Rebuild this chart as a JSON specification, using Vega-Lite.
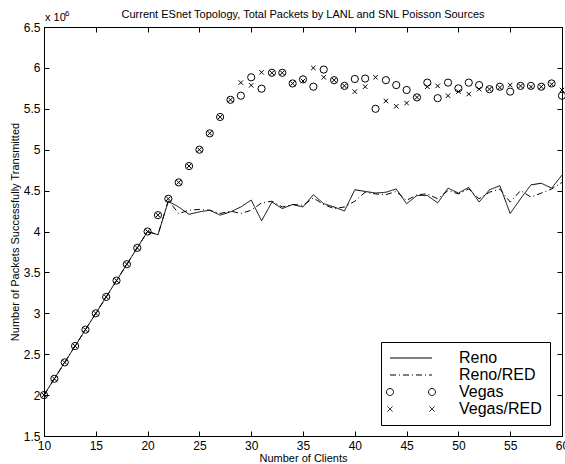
{
  "$schema": "https://vega.github.io/schema/vega-lite/v6.json",
  "width": 518,
  "height": 409,
  "autosize": {"type": "none"},
  "padding": {"left": 44, "top": 27, "right": 3, "bottom": 28},
  "background": "white",
  "title": {
    "text": "Current ESnet Topology, Total Packets by LANL and SNL Poisson Sources",
    "font": "Liberation Sans",
    "fontSize": 11,
    "fontWeight": "normal",
    "color": "black",
    "anchor": "middle",
    "frame": "group",
    "baseline": "alphabetic",
    "offset": -19
  },
  "config": {
    "view": {"stroke": "black", "strokeWidth": 1},
    "axis": {
      "grid": false,
      "domainColor": "black",
      "tickColor": "black",
      "labelColor": "black",
      "titleColor": "black",
      "labelFont": "Liberation Sans",
      "labelFontSize": 12,
      "titleFont": "Liberation Sans",
      "titleFontSize": 11,
      "titleFontWeight": "normal",
      "tickSize": -5,
      "labelPadding": 9,
      "minExtent": 0
    }
  },
  "datasets": {
    "wide": [
      {"clients": 10, "Reno": 2.0, "Reno/RED": 2.0, "Vegas": 2.0, "Vegas/RED": 2.0},
      {"clients": 11, "Reno": 2.2, "Reno/RED": 2.2, "Vegas": 2.2, "Vegas/RED": 2.2},
      {"clients": 12, "Reno": 2.4, "Reno/RED": 2.4, "Vegas": 2.4, "Vegas/RED": 2.4},
      {"clients": 13, "Reno": 2.6, "Reno/RED": 2.6, "Vegas": 2.6, "Vegas/RED": 2.6},
      {"clients": 14, "Reno": 2.8, "Reno/RED": 2.8, "Vegas": 2.8, "Vegas/RED": 2.8},
      {"clients": 15, "Reno": 3.0, "Reno/RED": 3.0, "Vegas": 3.0, "Vegas/RED": 3.0},
      {"clients": 16, "Reno": 3.2, "Reno/RED": 3.2, "Vegas": 3.2, "Vegas/RED": 3.2},
      {"clients": 17, "Reno": 3.4, "Reno/RED": 3.4, "Vegas": 3.4, "Vegas/RED": 3.4},
      {"clients": 18, "Reno": 3.6, "Reno/RED": 3.6, "Vegas": 3.6, "Vegas/RED": 3.6},
      {"clients": 19, "Reno": 3.8, "Reno/RED": 3.8, "Vegas": 3.8, "Vegas/RED": 3.8},
      {"clients": 20, "Reno": 4.0, "Reno/RED": 4.0, "Vegas": 4.0, "Vegas/RED": 4.0},
      {"clients": 21, "Reno": 3.96, "Reno/RED": 3.96, "Vegas": 4.2, "Vegas/RED": 4.2},
      {"clients": 22, "Reno": 4.37, "Reno/RED": 4.38, "Vegas": 4.4, "Vegas/RED": 4.4},
      {"clients": 23, "Reno": 4.3, "Reno/RED": 4.22, "Vegas": 4.6, "Vegas/RED": 4.6},
      {"clients": 24, "Reno": 4.21, "Reno/RED": 4.26, "Vegas": 4.8, "Vegas/RED": 4.8},
      {"clients": 25, "Reno": 4.24, "Reno/RED": 4.27, "Vegas": 5.0, "Vegas/RED": 5.0},
      {"clients": 26, "Reno": 4.26, "Reno/RED": 4.26, "Vegas": 5.2, "Vegas/RED": 5.2},
      {"clients": 27, "Reno": 4.2, "Reno/RED": 4.22, "Vegas": 5.4, "Vegas/RED": 5.4},
      {"clients": 28, "Reno": 4.24, "Reno/RED": 4.25, "Vegas": 5.61, "Vegas/RED": 5.61},
      {"clients": 29, "Reno": 4.3, "Reno/RED": 4.22, "Vegas": 5.66, "Vegas/RED": 5.82},
      {"clients": 30, "Reno": 4.385, "Reno/RED": 4.26, "Vegas": 5.885, "Vegas/RED": 5.787},
      {"clients": 31, "Reno": 4.13, "Reno/RED": 4.35, "Vegas": 5.746, "Vegas/RED": 5.946},
      {"clients": 32, "Reno": 4.36, "Reno/RED": 4.37, "Vegas": 5.94, "Vegas/RED": 5.94},
      {"clients": 33, "Reno": 4.28, "Reno/RED": 4.3, "Vegas": 5.94, "Vegas/RED": 5.94},
      {"clients": 34, "Reno": 4.33, "Reno/RED": 4.33, "Vegas": 5.81, "Vegas/RED": 5.81},
      {"clients": 35, "Reno": 4.3, "Reno/RED": 4.32, "Vegas": 5.86, "Vegas/RED": 5.84},
      {"clients": 36, "Reno": 4.45, "Reno/RED": 4.41, "Vegas": 5.77, "Vegas/RED": 6.0},
      {"clients": 37, "Reno": 4.34, "Reno/RED": 4.33, "Vegas": 5.98, "Vegas/RED": 5.885},
      {"clients": 38, "Reno": 4.3, "Reno/RED": 4.28, "Vegas": 5.85, "Vegas/RED": 5.85},
      {"clients": 39, "Reno": 4.25, "Reno/RED": 4.3, "Vegas": 5.78, "Vegas/RED": 5.78},
      {"clients": 40, "Reno": 4.51, "Reno/RED": 4.37, "Vegas": 5.864, "Vegas/RED": 5.71},
      {"clients": 41, "Reno": 4.49, "Reno/RED": 4.48, "Vegas": 5.87, "Vegas/RED": 5.77},
      {"clients": 42, "Reno": 4.47, "Reno/RED": 4.46, "Vegas": 5.5, "Vegas/RED": 5.885},
      {"clients": 43, "Reno": 4.48, "Reno/RED": 4.45, "Vegas": 5.85, "Vegas/RED": 5.595},
      {"clients": 44, "Reno": 4.52, "Reno/RED": 4.49, "Vegas": 5.79, "Vegas/RED": 5.53},
      {"clients": 45, "Reno": 4.34, "Reno/RED": 4.38, "Vegas": 5.73, "Vegas/RED": 5.57},
      {"clients": 46, "Reno": 4.44, "Reno/RED": 4.45, "Vegas": 5.64, "Vegas/RED": 5.64},
      {"clients": 47, "Reno": 4.44, "Reno/RED": 4.46, "Vegas": 5.82, "Vegas/RED": 5.77},
      {"clients": 48, "Reno": 4.35, "Reno/RED": 4.4, "Vegas": 5.63, "Vegas/RED": 5.78},
      {"clients": 49, "Reno": 4.53, "Reno/RED": 4.5, "Vegas": 5.82, "Vegas/RED": 5.66},
      {"clients": 50, "Reno": 4.47, "Reno/RED": 4.46, "Vegas": 5.75, "Vegas/RED": 5.71},
      {"clients": 51, "Reno": 4.54, "Reno/RED": 4.52, "Vegas": 5.82, "Vegas/RED": 5.68},
      {"clients": 52, "Reno": 4.36, "Reno/RED": 4.4, "Vegas": 5.79, "Vegas/RED": 5.74},
      {"clients": 53, "Reno": 4.51, "Reno/RED": 4.48, "Vegas": 5.74, "Vegas/RED": 5.74},
      {"clients": 54, "Reno": 4.56, "Reno/RED": 4.52, "Vegas": 5.77, "Vegas/RED": 5.76},
      {"clients": 55, "Reno": 4.22, "Reno/RED": 4.36, "Vegas": 5.71, "Vegas/RED": 5.79},
      {"clients": 56, "Reno": 4.4, "Reno/RED": 4.5, "Vegas": 5.78, "Vegas/RED": 5.78},
      {"clients": 57, "Reno": 4.57, "Reno/RED": 4.42, "Vegas": 5.78, "Vegas/RED": 5.77},
      {"clients": 58, "Reno": 4.59, "Reno/RED": 4.47, "Vegas": 5.77, "Vegas/RED": 5.77},
      {"clients": 59, "Reno": 4.53, "Reno/RED": 4.52, "Vegas": 5.81, "Vegas/RED": 5.8},
      {"clients": 60, "Reno": 4.69, "Reno/RED": 4.6, "Vegas": 5.66, "Vegas/RED": 5.73}
    ],
    "exponent": [
      {"clients": 10, "packets": 6.5, "base": "x 10", "power": "6"}
    ]
  },
  "layer": [
    {
      "data": {"name": "wide"},
      "transform": [{"fold": ["Reno", "Reno/RED"], "as": ["series", "packets"]}],
      "mark": {"type": "line", "color": "black", "strokeWidth": 1},
      "encoding": {
        "x": {
          "field": "clients",
          "type": "quantitative",
          "scale": {"domain": [10, 60], "nice": false, "zero": false},
          "axis": {
            "orient": "bottom",
            "values": [10, 15, 20, 25, 30, 35, 40, 45, 50, 55, 60],
            "title": "Number of Clients",
            "titlePadding": 1,
            "labelFlush": false
          }
        },
        "y": {
          "field": "packets",
          "type": "quantitative",
          "scale": {"domain": [1.5, 6.5], "nice": false, "zero": false},
          "axis": {
            "orient": "left",
            "values": [1.5, 2, 2.5, 3, 3.5, 4, 4.5, 5, 5.5, 6, 6.5],
            "format": "~g",
            "title": "Number of Packets Successfully Transmitted",
            "titlePadding": 3
          }
        },
        "strokeDash": {
          "field": "series",
          "type": "nominal",
          "scale": {
            "domain": ["Reno", "Reno/RED", "Vegas", "Vegas/RED"],
            "range": [[1, 0], [6, 3, 1, 3], [1, 0], [1, 0]]
          },
          "legend": {
            "title": null,
            "orient": "none",
            "legendX": 337,
            "legendY": 315,
            "strokeColor": "black",
            "fillColor": "white",
            "padding": 8,
            "cornerRadius": 0,
            "rowPadding": 1,
            "labelFont": "Liberation Sans",
            "labelFontSize": 16,
            "labelColor": "black",
            "labelOffset": 54,
            "labelLimit": 0,
            "symbolSize": 4,
            "symbolStrokeWidth": 1,
            "symbolStrokeColor": "black",
            "symbolFillColor": "transparent",
            "encode": {
              "symbols": {
                "update": {
                  "shape": {
                    "signal": "datum.value === 'Vegas' ? 'M-10.5,0A3.5,3.5 0 1,0 -3.5,0A3.5,3.5 0 1,0 -10.5,0M31.5,0A3.5,3.5 0 1,0 38.5,0A3.5,3.5 0 1,0 31.5,0' : datum.value === 'Vegas/RED' ? 'M-9.5,-2.5L-4.5,2.5M-9.5,2.5L-4.5,-2.5M32.5,-2.5L37.5,2.5M32.5,2.5L37.5,-2.5' : 'M-7,0L35,0'"
                  },
                  "stroke": {"value": "black"},
                  "fill": {"value": "transparent"},
                  "strokeWidth": {"value": 1}
                }
              }
            }
          }
        }
      }
    },
    {
      "data": {"name": "wide"},
      "transform": [{"fold": ["Vegas", "Vegas/RED"], "as": ["series", "packets"]}],
      "mark": {"type": "point", "filled": false, "color": "black", "strokeWidth": 1, "size": 52, "opacity": 1},
      "encoding": {
        "x": {
          "field": "clients",
          "type": "quantitative",
          "axis": {
            "orient": "top",
            "values": [10, 15, 20, 25, 30, 35, 40, 45, 50, 55, 60],
            "labels": false,
            "title": null
          }
        },
        "y": {
          "field": "packets",
          "type": "quantitative",
          "axis": {
            "orient": "right",
            "values": [1.5, 2, 2.5, 3, 3.5, 4, 4.5, 5, 5.5, 6, 6.5],
            "labels": false,
            "title": null
          }
        },
        "shape": {
          "field": "series",
          "type": "nominal",
          "scale": {
            "domain": ["Vegas", "Vegas/RED"],
            "range": ["circle", "M-0.62,-0.62L0.62,0.62M-0.62,0.62L0.62,-0.62"]
          },
          "legend": null
        }
      }
    },
    {
      "data": {"name": "exponent"},
      "mark": {"type": "text", "align": "left", "baseline": "alphabetic", "dx": 1, "dy": -6, "font": "Liberation Sans", "fontSize": 11, "color": "black"},
      "encoding": {
        "x": {"field": "clients", "type": "quantitative", "axis": null},
        "y": {"field": "packets", "type": "quantitative", "axis": null},
        "text": {"field": "base"}
      }
    },
    {
      "data": {"name": "exponent"},
      "mark": {"type": "text", "align": "left", "baseline": "alphabetic", "dx": 21, "dy": -11, "font": "Liberation Sans", "fontSize": 8, "color": "black"},
      "encoding": {
        "x": {"field": "clients", "type": "quantitative", "axis": null},
        "y": {"field": "packets", "type": "quantitative", "axis": null},
        "text": {"field": "power"}
      }
    }
  ],
  "resolve": {"axis": {"x": "independent", "y": "independent"}}
}
